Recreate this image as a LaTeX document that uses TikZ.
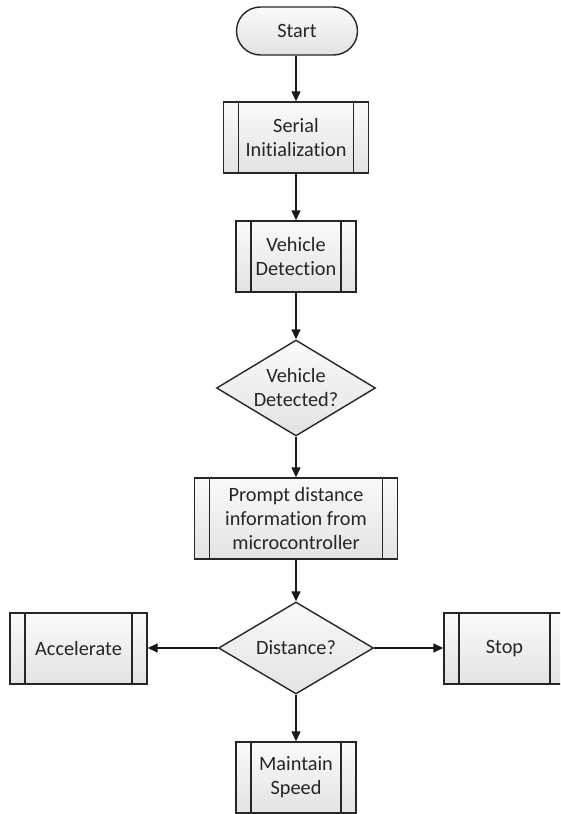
\documentclass[tikz,border=0pt]{standalone}
\usepackage{fontspec}
\setmainfont[Ligatures={NoCommon,NoContextual}]{Carlito}
\usetikzlibrary{shapes.geometric,arrows.meta}
\begin{document}
\begin{tikzpicture}[x=1pt,y=-1pt,
  base/.style={draw=black!85, line width=1.4pt, top color=white!98!black, bottom color=white!89!black,
    text=black!85, font=\fontsize{20.3}{24}\selectfont, align=center, inner sep=0pt},
  proc/.style 2 args={base, rectangle, minimum width=#1, minimum height=#2,
    path picture={\draw[line width=1.4pt, black!85]
      ([xshift=15pt]path picture bounding box.north west) -- ([xshift=15pt]path picture bounding box.south west)
      ([xshift=-15pt]path picture bounding box.north east) -- ([xshift=-15pt]path picture bounding box.south east);}},
  decide/.style 2 args={base, diamond, minimum width=#1, minimum height=#2, aspect=1.66},
  termin/.style={base, rectangle, rounded corners=24pt, minimum width=121, minimum height=48},
  arr/.style={draw=black!90, line width=1.4pt, -{Triangle[length=10pt,width=9pt]}}
]
\useasboundingbox (0,0) rectangle (560,814);
\clip (0,0) rectangle (560,814);

\node[termin] (start) at (297,31) {Start};
\node[proc={145}{71}] (serial) at (296,137.5) {Serial\\Initialization};
\node[proc={120}{71}] (vdet) at (296,256.5) {Vehicle\\Detection};
\node[decide={159}{96}] (d1) at (296,388) {Vehicle\\Detected?};
\node[proc={203}{81}] (prompt) at (296,518.5) {Prompt distance\\information from\\microcontroller};
\node[decide={155}{92}] (d2) at (296,648) {Distance?};
\node[proc={137}{71}] (acc) at (78.5,648.5) {Accelerate};
\node[proc={121}{71}] (stop) at (504.5,648.5) {Stop};
\node[proc={120}{71}] (maint) at (296,777.5) {Maintain\\Speed};

\draw[arr] (start.south -| serial.north) -- (serial.north);
\draw[arr] (serial) -- (vdet);
\draw[arr] (vdet) -- (d1);
\draw[arr] (d1) -- (prompt);
\draw[arr] (prompt) -- (d2);
\draw[arr] (d2) -- (maint);
\draw[arr] (d2.west) -- (d2.west -| acc.east);
\draw[arr] (d2.east) -- (d2.east -| stop.west);
\end{tikzpicture}
\end{document}
